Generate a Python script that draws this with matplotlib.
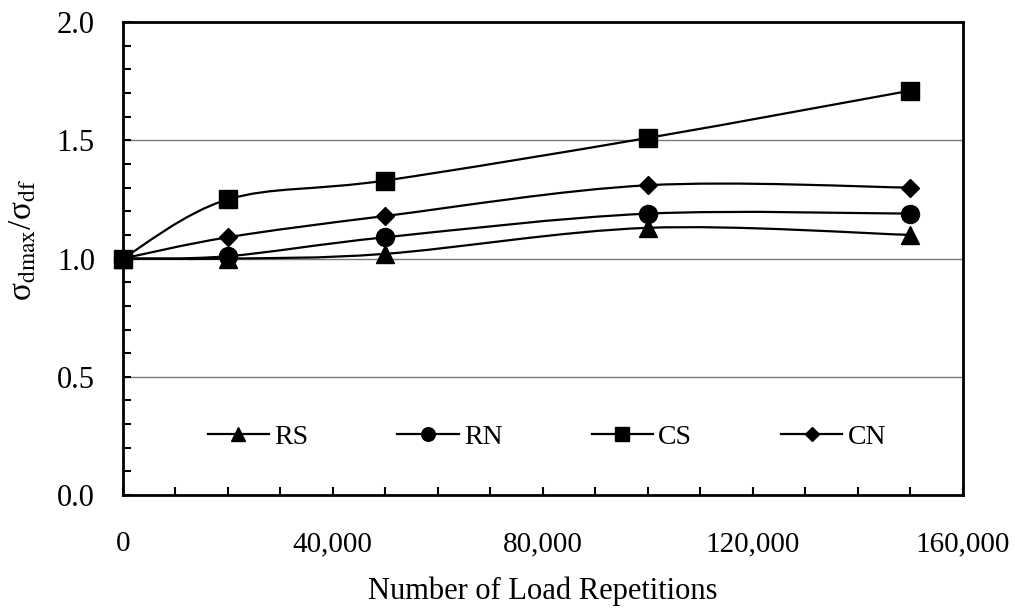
import matplotlib
matplotlib.use("Agg")
import matplotlib.pyplot as plt
from matplotlib.path import Path
from matplotlib.patches import PathPatch
from matplotlib.lines import Line2D
from matplotlib.ticker import MultipleLocator, FuncFormatter

plt.rcParams["font.family"] = ["Liberation Serif", "DejaVu Serif"]
plt.rcParams["mathtext.fontset"] = "stix"

# Data
load_reps = [0, 20000, 50000, 100000, 150000]
rs = [1.00, 1.00, 1.02, 1.13, 1.10]
rn = [1.00, 1.01, 1.09, 1.19, 1.19]
cs = [1.00, 1.25, 1.33, 1.51, 1.71]
cn = [1.00, 1.09, 1.18, 1.31, 1.30]

series = [("RS", rs, "^", 13), ("RN", rn, "o", 13), ("CS", cs, "s", 13), ("CN", cn, "D", 9.5)]


def smooth_path(xs, ys):
    """Cubic Bezier path through the points (Catmull-Rom style smoothing)."""
    pts = list(zip(xs, ys))
    n = len(pts)
    verts = [pts[0]]
    codes = [Path.MOVETO]
    for i in range(n - 1):
        p0 = pts[i - 1] if i > 0 else pts[i]
        p1 = pts[i]
        p2 = pts[i + 1]
        p3 = pts[i + 2] if i + 2 < n else pts[i + 1]
        c1 = (p1[0] + (p2[0] - p0[0]) / 6.0, p1[1] + (p2[1] - p0[1]) / 6.0)
        c2 = (p2[0] - (p3[0] - p1[0]) / 6.0, p2[1] - (p3[1] - p1[1]) / 6.0)
        verts += [c1, c2, p2]
        codes += [Path.CURVE4] * 3
    return Path(verts, codes)


fig = plt.figure(figsize=(10.31, 6.12), dpi=100)
ax = fig.add_axes([0.119, 0.191, 0.815, 0.773])

ax.set_xlim(0, 160000)
ax.set_ylim(0, 2.0)

for yv in (0.5, 1.0, 1.5):
    ax.axhline(yv, color="#7a7a7a", lw=1.0, zorder=1)

handles = []
for name, vals, mk, ms in series:
    ax.add_patch(PathPatch(smooth_path(load_reps, vals), facecolor="none",
                           edgecolor="black", lw=1.6, zorder=3))
    ax.plot(load_reps, vals, linestyle="none", marker=mk, markersize=ms,
            color="black", zorder=4, clip_on=False)
    handles.append(Line2D([], [], color="black", lw=1.6, marker=mk,
                          markersize=ms * 0.75, label=name))

ax.legend(handles=handles, loc="center", bbox_to_anchor=(0.505, 0.123),
          ncol=4, frameon=False, fontsize=20, handlelength=2.2,
          handletextpad=0.2, columnspacing=3.2)

ax.xaxis.set_major_locator(MultipleLocator(40000))
ax.xaxis.set_minor_locator(MultipleLocator(10000))
ax.yaxis.set_major_locator(MultipleLocator(0.5))
ax.yaxis.set_minor_locator(MultipleLocator(0.1))
ax.xaxis.set_major_formatter(FuncFormatter(lambda v, p: f"{int(v):,}"))
ax.yaxis.set_major_formatter(FuncFormatter(lambda v, p: f"{v:.1f}"))

ax.tick_params(axis="both", which="both", direction="in", width=1.5, length=6)
ax.tick_params(axis="x", which="major", pad=26, labelsize=21)
ax.tick_params(axis="y", which="major", pad=20, labelsize=22)

for sp in ax.spines.values():
    sp.set_linewidth(2.0)
    sp.set_zorder(5)

ax.set_xlabel("Number of Load Repetitions", fontsize=22, labelpad=14)
ax.set_ylabel(r"σ$_{\mathrm{dmax}}$/σ$_{\mathrm{df}}$", fontsize=24)
ax.yaxis.set_label_coords(-0.1, 0.54)

fig.savefig("out.png", dpi=100, facecolor="white")
